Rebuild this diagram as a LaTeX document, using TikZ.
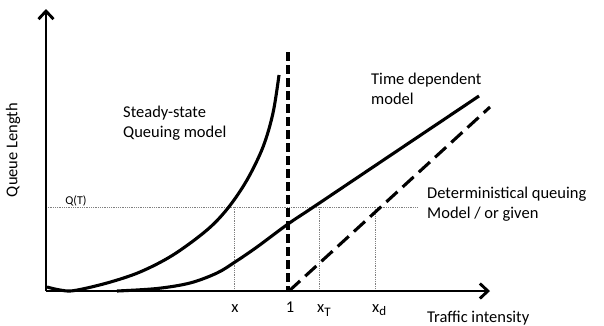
\documentclass[tikz,border=0pt]{standalone}
\usepackage{fontspec}
\setmainfont{Carlito}
\usetikzlibrary{arrows.meta}
\begin{document}
\begin{tikzpicture}[x=1pt,y=-1pt,
  axis/.style={line width=2.9pt,-{Straight Barb[length=8pt,width=15pt]}},
  curve/.style={line width=3.1pt},
  dashv/.style={line width=3.1pt,dash pattern=on 9pt off 4pt},
  dashd/.style={line width=3.1pt,dash pattern=on 15pt off 7pt},
  guide/.style={line width=0.8pt,gray,dash pattern=on 1pt off 0.8pt},
  lbl/.style={font=\fontsize{16.5}{20}\selectfont,inner sep=0pt,align=left},
  small/.style={font=\fontsize{12}{14}\selectfont,inner sep=0pt}]
\useasboundingbox (0,0) rectangle (604,325);
\coordinate (O) at (46,291);
\coordinate (Ytip) at (46,9);
\coordinate (Xtip) at (490,291);
\coordinate (Qleft) at (46,207);
\coordinate (Qright) at (417,207);
\coordinate (Vtop) at (288,52);
\coordinate (Vbot) at (288,291);
\coordinate (Dstart) at (289,291);
\coordinate (Dend) at (490,107);
\coordinate (gx) at (234,207);
\coordinate (gxb) at (234,291);
\coordinate (gt) at (319,207);
\coordinate (gtb) at (319,291);
\coordinate (gd) at (375,207);
\coordinate (gdb) at (375,291);
% guides
\draw[guide] (Qleft) -- (Qright);
\draw[guide] (gx) -- (gxb);
\draw[guide] (gt) -- (gtb);
\draw[guide] (gd) -- (gdb);
% curves
\draw[curve] plot[smooth,tension=0.55] coordinates {(47,287) (60,290) (74,290.6) (107,283) (140,272) (173,255) (207,230) (228,208) (247,180) (263,147) (273,113) (279,75)};
\draw[curve] plot[smooth,tension=0.55] coordinates {(117,291) (157,288.5) (190,283) (217,273) (235,262) (257,247) (288,224) (315,206) (388,157) (479,96)};
\draw[dashv] (Vtop) -- (Vbot);
\draw[dashd] (Dstart) -- (Dend);
% axes
\draw[axis] (O) -- (Ytip);
\draw[axis] (O) -- (Xtip);
% labels
\node[lbl,rotate=90] (ylab) at (13,150) {Queue Length};
\node[small,anchor=base] (qt) at (76,204) {Q(T)};
\node[lbl,anchor=base west] (ss) at (123,137) {Steady-state\\Queuing model};
\node[lbl,anchor=base west] (td) at (371,104) {Time dependent\\model};
\node[lbl,anchor=base west] (dq) at (427,218) {Deterministical queuing\\Model / or given};
\node[lbl,anchor=base] (lx) at (235,312) {x};
\node[lbl,anchor=base] (l1) at (290,312) {1};
\node[lbl,anchor=base west] (lt) at (317,312) {x\raisebox{-4pt}{\fontsize{13}{13}\selectfont T}};
\node[lbl,anchor=base west] (ld) at (372,312) {x\raisebox{-3pt}{\fontsize{13}{13}\selectfont d}};
\node[lbl,anchor=base west] (ti) at (427,322) {Traffic intensity};
\end{tikzpicture}
\end{document}
